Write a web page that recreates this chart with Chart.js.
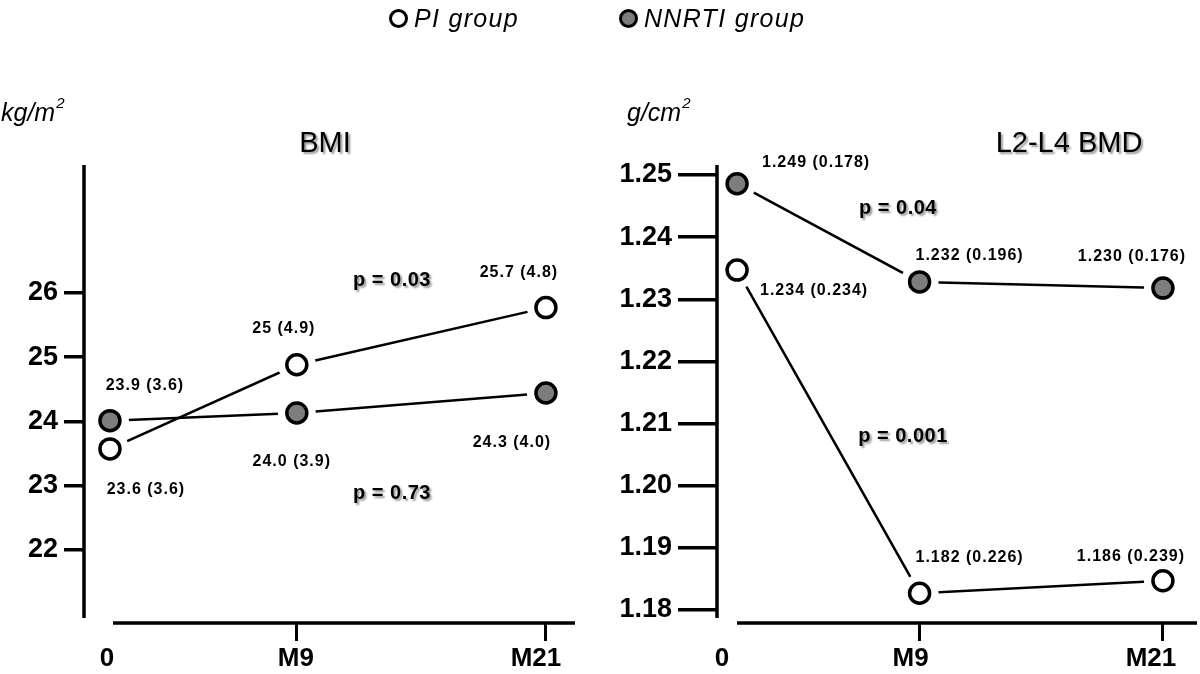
<!DOCTYPE html>
<html>
<head>
<meta charset="utf-8">
<script src="https://cdn.jsdelivr.net/npm/chart.js@4.4.0/dist/chart.umd.min.js"></script>
<style>
  body { margin: 0; width: 1200px; height: 674px; background: #fff; position: relative; overflow: hidden;
         font-family: "Liberation Sans", Arial, sans-serif; }
  canvas { position: absolute; top: 0; }
  #bmi { left: 0; }
  #bmd { left: 600px; }
  .lg { position: absolute; top: 0; height: 36px; line-height: 36px; font-style: italic; font-size: 25px;
        letter-spacing: 1.3px; z-index: 2; }
  .dot { position: absolute; top: 9px; width: 13px; height: 13px; border: 3px solid #000; border-radius: 50%; z-index: 2; }
</style>
</head>
<body>
<div class="dot" style="left:389px;background:#fff"></div>
<div class="lg" style="left:414px">PI group</div>
<div class="dot" style="left:619px;background:#7d7d7d"></div>
<div class="lg" style="left:644px">NNRTI group</div>
<canvas id="bmi" width="600" height="674"></canvas>
<canvas id="bmd" width="600" height="674"></canvas>
<script>
// time points (months) and their axis labels
const months = [0, 9, 21];
const monthLabels = ['0', 'M9', 'M21'];

// BMI, kg/m2 (plotted means)
const bmiPI = [23.57, 24.88, 25.77];
const bmiNNRTI = [24.01, 24.13, 24.44];
const bmiPIText = ['23.6 (3.6)', '25 (4.9)', '25.7 (4.8)'];
const bmiNNRTIText = ['23.9 (3.6)', '24.0 (3.9)', '24.3 (4.0)'];
const bmiTicks = [22, 23, 24, 25, 26];

// L2-L4 BMD, g/cm2
const bmdPI = [1.2347, 1.1827, 1.1847];
const bmdNNRTI = [1.2486, 1.2328, 1.2318];
const bmdPIText = ['1.234 (0.234)', '1.182 (0.226)', '1.186 (0.239)'];
const bmdNNRTIText = ['1.249 (0.178)', '1.232 (0.196)', '1.230 (0.176)'];
const bmdTicks = [1.18, 1.19, 1.20, 1.21, 1.22, 1.23, 1.24, 1.25];

const FONT = '"Liberation Sans", Arial, sans-serif';
const GREY = '#7d7d7d';

// draws axis lines, x labels, titles, units, p values and value labels
const panelText = {
    id: 'panelText',
    afterDatasetsDraw(chart, args, o) {
        const ctx = chart.ctx;
        const a = chart.chartArea;
        const xs = chart.scales.x;
        ctx.save();

        // offset axes (y stops short of x, x starts right of y)
        ctx.strokeStyle = '#000';
        ctx.lineWidth = 3.5;
        ctx.beginPath();
        ctx.moveTo(a.left, a.top);
        ctx.lineTo(a.left, a.bottom - 5);
        ctx.moveTo(a.left + o.xGap, a.bottom);
        ctx.lineTo(a.right, a.bottom);
        ctx.stroke();

        ctx.fillStyle = '#000';

        // x tick labels
        ctx.textAlign = 'center';
        ctx.textBaseline = 'middle';
        ctx.font = 'bold 26px ' + FONT;
        months.forEach((m, i) => {
            ctx.fillText(monthLabels[i], xs.getPixelForValue(m) + o.xLabelShift[i], a.bottom + 36);
        });

        // unit with superscript
        ctx.textAlign = 'left';
        ctx.textBaseline = 'alphabetic';
        ctx.font = 'italic 25px ' + FONT;
        ctx.fillText(o.unit, o.unitX, 121);
        const w = ctx.measureText(o.unit).width;
        ctx.font = 'italic 15px ' + FONT;
        ctx.fillText('2', o.unitX + w + 1, 108);

        // shadowed texts
        ctx.textAlign = 'center';
        ctx.textBaseline = 'middle';
        ctx.shadowColor = 'rgba(0,0,0,0.4)';
        ctx.shadowOffsetX = 2;
        ctx.shadowOffsetY = 2;
        ctx.shadowBlur = 2;
        ctx.font = '29px ' + FONT;
        ctx.fillText(o.title, o.titleX, 144);
        ctx.font = 'bold 20px ' + FONT;
        ctx.letterSpacing = '0.5px';
        o.pValues.forEach(p => ctx.fillText(p.text, p.x, p.y));
        ctx.shadowColor = 'rgba(0,0,0,0)';

        // value labels next to the points
        ctx.font = 'bold 16px ' + FONT;
        ctx.letterSpacing = '1px';
        chart.data.datasets.forEach((ds, i) => {
            if (!ds.valueText) return;
            const meta = chart.getDatasetMeta(i);
            meta.data.forEach((pt, j) => {
                const off = o.offsets[ds.key][j];
                ctx.fillText(ds.valueText[j], pt.x + off[0], pt.y + off[1]);
            });
        });
        ctx.restore();
    }
};

function makePanel(id, p) {
    const pts = vals => months.map((m, i) => ({ x: m, y: vals[i] }));
    const datasets = [];
    p.series.forEach(s => {
        // connecting line
        datasets.push({ data: pts(s.values), borderColor: '#000', borderWidth: 2.5,
            pointRadius: 0, tension: 0, fill: false, order: 3 });
        // white halo so the line stops short of the marker
        datasets.push({ data: pts(s.values), showLine: false, pointRadius: 19,
            pointBackgroundColor: '#fff', pointBorderWidth: 0, order: 2 });
        // marker
        datasets.push({ data: pts(s.values), showLine: false, pointRadius: 10,
            pointBackgroundColor: s.fill, pointBorderColor: '#000', pointBorderWidth: 3.5,
            order: 1, valueText: s.text, key: s.key });
    });

    return new Chart(document.getElementById(id), {
        type: 'line',
        data: { datasets },
        options: {
            responsive: false,
            animation: false,
            events: [],
            layout: { autoPadding: false, padding: { top: 165, right: p.padRight, left: 0, bottom: 0 } },
            plugins: {
                legend: { display: false },
                tooltip: { enabled: false },
                panelText: p.text
            },
            scales: {
                x: {
                    type: 'linear',
                    min: p.xMin, max: p.xMax,
                    afterBuildTicks: ax => { ax.ticks = months.map(v => ({ value: v })); },
                    afterFit: ax => { ax.height = 51; },
                    border: { display: false },
                    grid: { drawOnChartArea: false, tickLength: 18, lineWidth: 3,
                        tickColor: c => (c.tick && c.tick.value === 0) ? 'rgba(0,0,0,0)' : '#000' },
                    ticks: { display: false }
                },
                y: {
                    min: p.yMin, max: p.yMax,
                    afterBuildTicks: ax => { ax.ticks = p.ticks.map(v => ({ value: v })); },
                    afterFit: ax => { ax.width = p.yWidth; },
                    border: { display: false },
                    grid: { drawOnChartArea: false, tickLength: p.yTickLen, lineWidth: 3.5, tickColor: '#000' },
                    ticks: { color: '#000', padding: 6,
                        font: { family: FONT, size: 27, weight: 'bold' },
                        callback: v => p.fmt(v) }
                }
            }
        },
        plugins: [panelText]
    });
}

makePanel('bmi', {
    xMin: -1.25, xMax: 22.4, yMin: 20.86, yMax: 27.99,
    padRight: 25, yWidth: 84, yTickLen: 20,
    ticks: bmiTicks, fmt: v => String(v),
    series: [
        { values: bmiPI, text: bmiPIText, fill: '#fff', key: 'pi' },
        { values: bmiNNRTI, text: bmiNNRTIText, fill: GREY, key: 'nn' }
    ],
    text: {
        xGap: 29, xLabelShift: [-3, -1, -10], unit: 'kg/m', unitX: 1, title: 'BMI', titleX: 325,
        pValues: [{ text: 'p = 0.03', x: 392, y: 280 }, { text: 'p = 0.73', x: 392, y: 493 }],
        offsets: {
            pi: [[36, 41], [-13, -36], [-27, -35]],
            nn: [[35, -35], [-5, 49], [-34, 50]]
        }
    }
});

makePanel('bmd', {
    xMin: -0.99, xMax: 22.68, yMin: 1.17791, yMax: 1.25161,
    padRight: 3, yWidth: 117, yTickLen: 39,
    ticks: bmdTicks, fmt: v => v.toFixed(2),
    series: [
        { values: bmdPI, text: bmdPIText, fill: '#fff', key: 'pi' },
        { values: bmdNNRTI, text: bmdNNRTIText, fill: GREY, key: 'nn' }
    ],
    text: {
        xGap: 20, xLabelShift: [-15, -9, -12], unit: 'g/cm', unitX: 27, title: 'L2-L4 BMD', titleX: 469,
        pValues: [{ text: 'p = 0.04', x: 298, y: 208 }, { text: 'p = 0.001', x: 303, y: 436 }],
        offsets: {
            pi: [[77, 21], [50, -36], [-32, -24]],
            nn: [[79, -21], [50, -26], [-31, -32]]
        }
    }
});
</script>
</body>
</html>
